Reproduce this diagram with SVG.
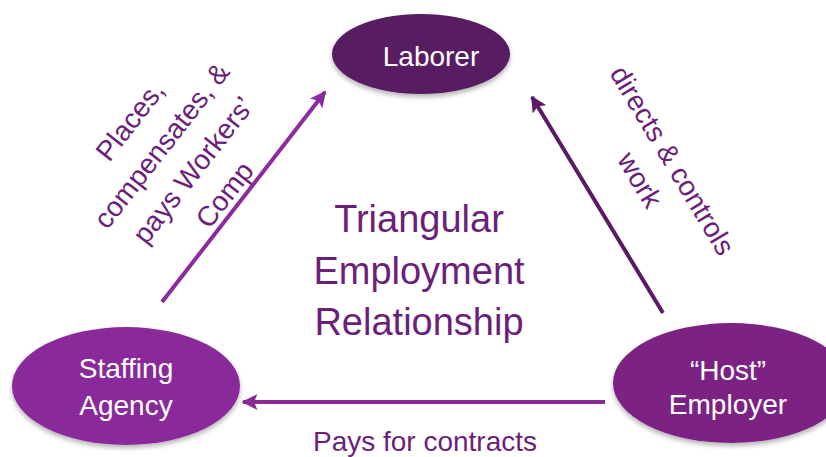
<svg xmlns="http://www.w3.org/2000/svg" width="826" height="457" viewBox="0 0 826 457">
<defs>
<style>
.lbl{font-family:"Liberation Sans",Arial,sans-serif;fill:#6b1f7a;text-anchor:middle}
.ntxt{font-family:"Liberation Sans",Arial,sans-serif;fill:#ffffff;text-anchor:middle;font-size:28px}
.conn{fill:none;stroke-width:4}
</style>
<filter id="sh" x="-20%" y="-20%" width="140%" height="150%">
<feGaussianBlur in="SourceAlpha" stdDeviation="2.5"/>
<feOffset dx="0" dy="3" result="b"/>
<feComponentTransfer><feFuncA type="linear" slope="0.3"/></feComponentTransfer>
<feMerge><feMergeNode/><feMergeNode in="SourceGraphic"/></feMerge>
</filter>
<marker id="ahL" viewBox="0 0 10 10" refX="9" refY="5" markerWidth="4" markerHeight="4" orient="auto" markerUnits="strokeWidth"><path d="M0,0 L10,5 L0,10 L2,5 Z" fill="#8c2aa0"/></marker>
<marker id="ahR" viewBox="0 0 10 10" refX="9" refY="5" markerWidth="4" markerHeight="4" orient="auto" markerUnits="strokeWidth"><path d="M0,0 L10,5 L0,10 L2,5 Z" fill="#5a1a66"/></marker>
<marker id="ahB" viewBox="0 0 10 10" refX="9" refY="5" markerWidth="4" markerHeight="4" orient="auto" markerUnits="strokeWidth"><path d="M0,0 L10,5 L0,10 L2,5 Z" fill="#8a2a97"/></marker>
</defs>
<rect width="826" height="457" fill="#ffffff"/>
<g id="connectors">
<line class="conn" x1="162" y1="302" x2="325" y2="92" stroke="#8c2aa0" marker-end="url(#ahL)"/>
<line class="conn" x1="663" y1="313" x2="532" y2="97" stroke="#5a1a66" marker-end="url(#ahR)"/>
<line class="conn" x1="605" y1="402" x2="243" y2="402" stroke="#8a2a97" marker-end="url(#ahB)"/>
</g>
<g id="laborer">
<ellipse cx="421" cy="54" rx="89" ry="40" fill="#581a63" filter="url(#sh)"/>
<text class="ntxt" x="431" y="66" font-size="27">Laborer</text>
</g>
<g id="staffing-agency">
<ellipse cx="126" cy="386" rx="114" ry="59" fill="#8a2b9a" filter="url(#sh)"/>
<text class="ntxt" x="126" y="378">Staffing</text>
<text class="ntxt" x="126" y="415">Agency</text>
</g>
<g id="host-employer">
<ellipse cx="731" cy="383" rx="118" ry="60" fill="#7b2283" filter="url(#sh)"/>
<text class="ntxt" x="728" y="380">“Host”</text>
<text class="ntxt" x="728" y="414">Employer</text>
</g>
<g id="title">
<text class="lbl" x="419" y="232" font-size="38">Triangular</text>
<text class="lbl" x="419" y="284" font-size="38">Employment</text>
<text class="lbl" x="419" y="335" font-size="38">Relationship</text>
</g>
<g id="label-left" transform="translate(177,157.5) rotate(-52)">
<text class="lbl" font-size="28" x="0" y="-50">Places,</text>
<text class="lbl" font-size="28" x="0" y="-10">compensates, &amp;</text>
<text class="lbl" font-size="28" x="0" y="30">pays Workers’</text>
<text class="lbl" font-size="28" x="0" y="70">Comp</text>
</g>
<g id="label-right" transform="translate(656.5,170) rotate(59)">
<text class="lbl" font-size="28" x="0" y="-9">directs &amp; controls</text>
<text class="lbl" font-size="28" x="0" y="29">work</text>
</g>
<g id="label-bottom">
<text class="lbl" x="425" y="451" font-size="28">Pays for contracts</text>
</g>
</svg>
